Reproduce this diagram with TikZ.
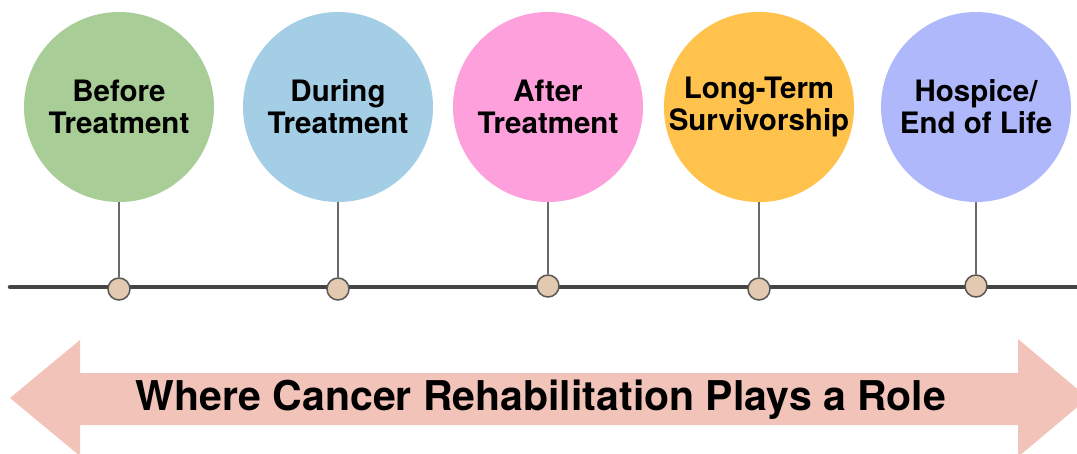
\documentclass[tikz,border=0pt]{standalone}
\usepackage{fontspec}
\setmainfont{TeX Gyre Heros}
\usetikzlibrary{positioning}

\definecolor{stagegreen}{HTML}{A9CD96}
\definecolor{stageblue}{HTML}{A4CDE6}
\definecolor{stagepink}{HTML}{FDA0DC}
\definecolor{stageorange}{HTML}{FFC24C}
\definecolor{stagelilac}{HTML}{B0B8FC}
\definecolor{dotfill}{HTML}{E2C9B0}
\definecolor{axisgray}{HTML}{444444}
\definecolor{rolepink}{HTML}{F2C3B9}

\begin{document}
\begin{tikzpicture}[x=1pt, y=-1pt,
  stage/.style={circle, minimum size=190pt, inner sep=0pt, align=center,
    font=\fontsize{29.5}{32}\selectfont\bfseries},
  dot/.style={circle, draw=axisgray!90, fill=dotfill, line width=1.5pt,
    minimum size=22pt, inner sep=0pt},
  stem/.style={draw=axisgray!80, line width=1.1pt}]
  \useasboundingbox (0,0) rectangle (1077,453);

  % timeline axis
  \draw[line width=4.5pt, axisgray, line cap=round] (10,287) -- (1090,287);

  % the five stages
  \node[stage, fill=stagegreen]  (before)  at (119,107) {Before\\Treatment};
  \node[stage, fill=stageblue]   (during)  at (338,107) {During\\Treatment};
  \node[stage, fill=stagepink]   (after)   at (548,107) {After\\Treatment};
  \node[stage, fill=stageorange] (longterm) at (759,107) {Long-Term\\Survivorship};
  \node[stage, fill=stagelilac]  (hospice) at (976,107) {Hospice/\\End of Life};

  % markers on the axis
  \node[dot] (dbefore)   at (119,289) {};
  \node[dot] (dduring)   at (338,289) {};
  \node[dot] (dafter)    at (548,286) {};
  \node[dot] (dlongterm) at (759,289) {};
  \node[dot] (dhospice)  at (976,286) {};

  \draw[stem] (before.south) -- (dbefore.north);
  \draw[stem] (during.south) -- (dduring.north);
  \draw[stem] (after.south) -- (dafter.north);
  \draw[stem] (longterm.south) -- (dlongterm.north);
  \draw[stem] (hospice.south) -- (dhospice.north);

  % double arrow underneath
  \fill[rolepink] (10,398) -- (80,340) -- (80,373) -- (1018,373) -- (1018,339)
    -- (1088,398) -- (1018,457) -- (1018,425) -- (80,425) -- (80,456) -- cycle;
  \node[font=\fontsize{41}{46}\selectfont\bfseries] (role) at (541,400)
    {Where Cancer Rehabilitation Plays a Role};
\end{tikzpicture}
\end{document}
